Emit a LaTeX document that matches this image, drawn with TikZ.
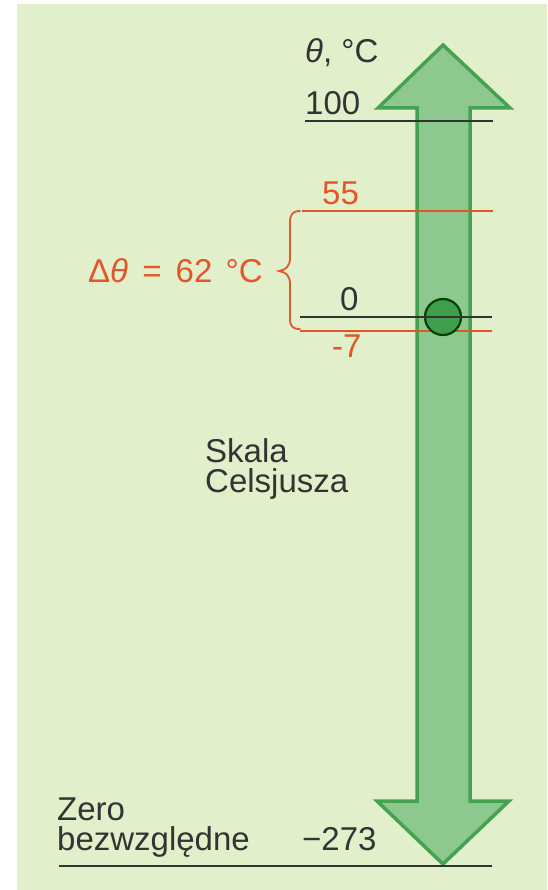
\documentclass[tikz,border=0pt]{standalone}
\usepackage{fontspec}
\setmainfont{Liberation Sans}
\definecolor{bg}{HTML}{E2EFCB}
\definecolor{arrowfill}{HTML}{8DC98F}
\definecolor{arrowline}{HTML}{44A250}
\definecolor{dotfill}{HTML}{3F9E4C}
\definecolor{ink}{HTML}{333333}
\definecolor{warm}{HTML}{E2562A}
\tikzset{
  lbl/.style={anchor=base west, inner sep=0pt, text=ink, font=\fontsize{33}{29}\selectfont},
  wlbl/.style={lbl, text=warm},
  blackline/.style={draw=ink, line width=2pt},
  warmline/.style={draw=warm, line width=2pt},
}
\begin{document}
\begin{tikzpicture}[x=1pt,y=-1pt]
\useasboundingbox (0,0) rectangle (547,890);
\fill[bg] (17,4) rectangle (547,890);
% double arrow
\filldraw[fill=arrowfill, draw=arrowline, line width=3.5pt, line join=miter]
  (443,45) -- (510,108) -- (470,108) -- (470,801) -- (509,801) -- (443,864)
  -- (377,801) -- (417,801) -- (417,108) -- (378,108) -- cycle;
% scale lines
\coordinate (l100a) at (305,121); \coordinate (l100b) at (493,121);
\coordinate (l55a) at (302,211); \coordinate (l55b) at (493,211);
\coordinate (l0a) at (300,317); \coordinate (l0b) at (492,317);
\coordinate (lm7a) at (300,331); \coordinate (lm7b) at (492,331);
\coordinate (lza) at (59,866); \coordinate (lzb) at (492,866);
\draw[blackline] (l100a) -- (l100b);
\draw[warmline] (l55a) -- (l55b);
\draw[warmline] (lm7a) -- (lm7b);
\node[circle, minimum size=36pt, inner sep=0pt, fill=dotfill, draw=black!75!green, line width=2.2pt] (dot) at (443,317) {};
\draw[blackline] (l0a) -- (l0b);
\draw[blackline] (lza) -- (lzb);
% brace
\draw[warm, line width=1.8pt, line cap=round]
  (300,211) .. controls (292,211) and (290,215) .. (290,223) -- (290,258)
  .. controls (290,266) and (286,270) .. (279,271)
  .. controls (286,272) and (290,276) .. (290,284) -- (290,318)
  .. controls (290,326) and (292,329) .. (300,329);
% labels
\node[lbl] (unit) at (305,63) {\textit{θ}, °C};
\node[lbl] (t100) at (305,115) {100};
\node[wlbl] (t55) at (322,205) {55};
\node[lbl] (t0) at (340,310) {0};
\node[wlbl] (tm7) at (332,357) {-7};
\node[wlbl] (delta) at (88,283) {Δ\textit{θ}\hspace{5pt} =\hspace{5pt} 62\hspace{4pt} °C};
\node[lbl] (skala) at (205,462) {Skala};
\node[lbl, text height=22pt] (cels) at (205,492) {Celsjusza};
\node[lbl, text depth=0pt] (zero) at (57,820) {Zero};
\node[lbl, text height=22pt] (bezw) at (57,850) {bezwzględne};
\node[lbl] (t273) at (302,850) {−273};
\end{tikzpicture}
\end{document}
